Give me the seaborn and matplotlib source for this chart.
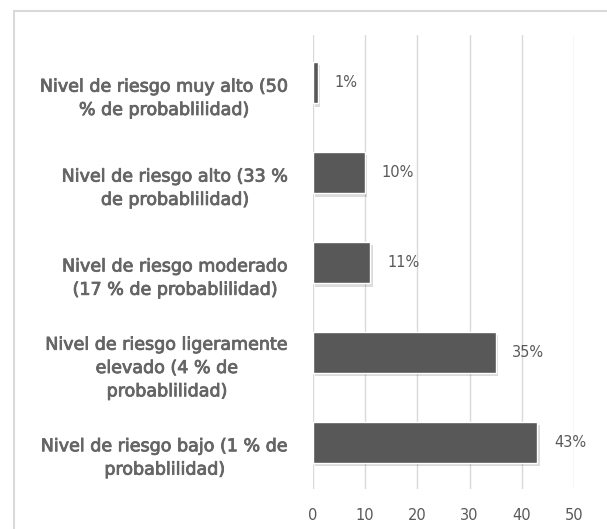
import matplotlib
matplotlib.use("Agg")
import matplotlib.pyplot as plt
import matplotlib.patheffects as pe
from matplotlib.patches import Rectangle
import matplotlib.transforms as mtransforms
import seaborn as sns
import pandas as pd

categorias = [
    "Nivel de riesgo muy alto (50\n% de probablilidad)",
    "Nivel de riesgo alto (33 %\nde probablilidad)",
    "Nivel de riesgo moderado\n(17 % de probablilidad)",
    "Nivel de riesgo ligeramente\nelevado (4 % de\nprobablilidad)",
    "Nivel de riesgo bajo (1 % de\nprobablilidad)",
]
porcentajes = [1, 10, 11, 35, 43]
ticks_x = [0, 10, 20, 30, 40, 50]

df = pd.DataFrame({"categoria": categorias, "porcentaje": porcentajes})

sns.set_theme(style="white")
plt.rcParams["font.family"] = ["DejaVu Sans"]
gris_texto = "#595959"

fig = plt.figure(figsize=(6.07, 5.29), dpi=100)
ax = fig.add_axes([313 / 607, 1 - 489 / 529, (574 - 313) / 607, (489 - 35) / 529])

sns.barplot(data=df, x="porcentaje", y="categoria", orient="h",
            color="#585858", width=0.46, saturation=1, ax=ax)

for p in ax.patches:
    p.set_path_effects([pe.SimplePatchShadow(offset=(1.5, -2.5), alpha=0.15), pe.Normal()])

ax.bar_label(ax.containers[0], labels=[f"{v}%" for v in porcentajes],
             padding=12, color=gris_texto, fontsize=10.5)

ax.set_xlim(0, 50)
ax.set_ylim(4.52, -0.53)
ax.set_xticks(ticks_x)
ax.set_xticklabels([str(t) for t in ticks_x])
ax.grid(axis="x", color="#d9d9d9", linewidth=1)
ax.set_axisbelow(True)
for s in ax.spines.values():
    s.set_visible(False)
ax.set_xlabel("")
ax.set_ylabel("")
ax.tick_params(axis="both", length=0, colors=gris_texto)
ax.tick_params(axis="x", pad=14, labelsize=10.5)
ax.tick_params(axis="y", pad=17, labelsize=12.6)

color_cat = "#656565"
desplazamiento = mtransforms.ScaledTranslation(0, -11 / 100, fig.dpi_scale_trans)
for lab in ax.get_yticklabels():
    lab.set_multialignment("center")
    lab.set_linespacing(1.38)
    lab.set_color(color_cat)
    lab.set_path_effects([pe.withStroke(linewidth=0.6, foreground=color_cat)])
    lab.set_transform(lab.get_transform() + desplazamiento)

# marco del área del gráfico
fig.patches.append(Rectangle((14 / 607, -0.05), 1.1, 1 - 11 / 529 + 0.05,
                             transform=fig.transFigure, fill=False,
                             edgecolor="#d9d9d9", linewidth=1.5))

fig.savefig("out.png", dpi=100, facecolor="white")
